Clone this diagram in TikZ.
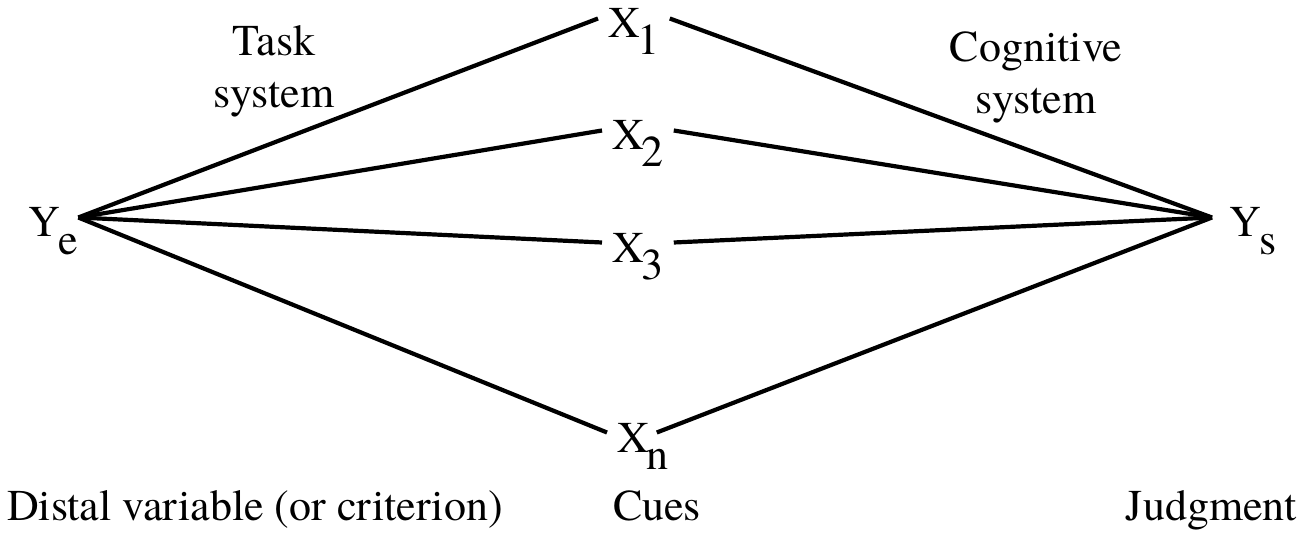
\documentclass[tikz,border=0pt]{standalone}
\usepackage{fontspec}
\setmainfont{texgyretermes-regular.otf}
\newcommand{\cuesub}[1]{\kern-2bp\smash{\lower17bp\hbox{#1}}}
\newcommand{\varsub}[1]{\kern-1bp\smash{\lower18bp\hbox{#1}}}

\begin{document}
\begin{tikzpicture}[x=1bp,y=-1bp,inner sep=0pt,outer sep=0pt,
  lbl/.style={font=\fontsize{44bp}{52bp}\selectfont},
  var/.style={lbl,anchor=base west,text height=39bp,text depth=0bp},
  cue/.style={var,inner xsep=10bp},
  link/.style={line width=4.2bp}]
  \useasboundingbox (0,0) rectangle (1306,535);
  \node[var] (ye) at (28,237) {Y\varsub{e}};
  \node[var,inner xsep=17bp] (ys) at (1212,237) {Y\varsub{s}};
  \node[cue] (x1) at (598,38) {X\cuesub{1}};
  \node[cue] (x2) at (602,150) {X\cuesub{2}};
  \node[cue] (x3) at (602,262) {X\cuesub{3}};
  \node[cue] (xn) at (607,452) {X\cuesub{n}};
  \node[lbl,align=center,anchor=north] (task) at (274,25) {Task\\system};
  \node[lbl,align=center,anchor=north] (cog) at (1036,32) {Cognitive\\system};
  \node[lbl,anchor=base west] (distal) at (7,520) {Distal variable (or criterion)};
  \node[lbl,anchor=base west] (cues) at (613,520) {Cues};
  \node[lbl,anchor=base east] (judg) at (1297,520) {Judgment};
  \foreach \c in {x1,x2,x3} {
    \draw[link] (ye.east) -- (\c.west);
    \draw[link] (\c.east) -- (ys.west);
  }
  \draw[link] (ye.east) -- (xn.west);
  \draw[link] ([xshift=-22bp]xn.east) -- (ys.west);
\end{tikzpicture}
\end{document}
